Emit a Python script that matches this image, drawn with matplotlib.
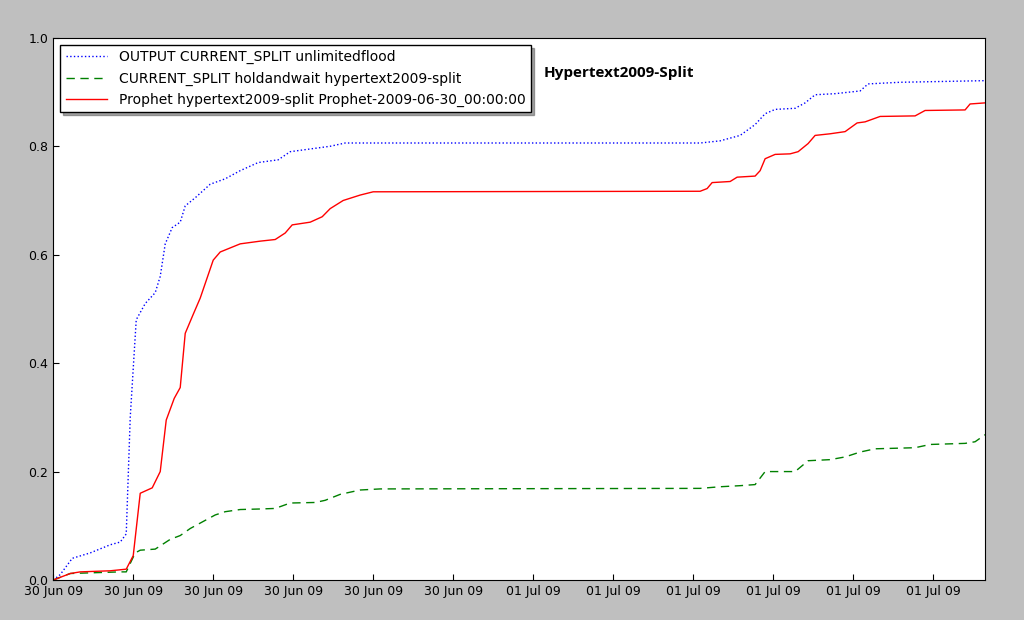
import datetime as dt
import matplotlib
matplotlib.use('Agg')
import matplotlib.pyplot as plt
import matplotlib.dates as mdates

start = dt.datetime(2009, 6, 30)

# hours since start, fraction delivered
flood_h = [0, 0.35, 0.95, 1.85, 2.85, 3.35, 3.65, 3.85, 4.15, 4.6, 5.1, 5.35, 5.6, 5.95, 6.35, 6.6, 7.1,
           7.85, 8.6, 9.35, 10.25, 11.25, 11.85, 12.85, 13.85, 14.6, 32.35, 33.35, 34.35, 35.1, 35.6,
           36.1, 37.1, 37.6, 38.1, 39.1, 40.35, 40.75, 42.35, 46.6]
flood_v = [0, .01, .04, .05, .065, .07, .085, .3, .48, .51, .53, .56, .62, .65, .66, .69, .705, .73, .74,
           .755, .77, .775, .79, .795, .80, .806, .806, .81, .82, .84, .86, .868, .87, .88, .895, .897,
           .902, .915, .918, .921]

hold_h = [0, 0.85, 3.35, 3.65, 4.1, 4.35, 5.1, 5.85, 6.35, 6.85, 7.35, 8.1, 8.6, 9.35, 10.35, 11.1,
          11.85, 13.1, 13.6, 14.35, 15.35, 16.35, 32.35, 33.35, 34.35, 35.1, 35.6, 37.1, 37.75, 38.85,
          39.6, 40.35, 41.1, 43.1, 43.85, 45.6, 46.1, 46.6]
hold_v = [0, .012, .015, .015, .05, .055, .057, .075, .082, .095, .105, .12, .126, .13, .131, .132,
          .142, .143, .147, .158, .166, .168, .169, .172, .174, .176, .2, .2, .22, .222, .227, .236,
          .242, .244, .25, .252, .255, .268]

proph_h = [0, 0.85, 1.35, 2.85, 3.65, 4.0, 4.35, 4.95, 5.35, 5.65, 6.05, 6.35, 6.6, 7.0, 7.35, 8.0,
           8.35, 9.35, 10.35, 11.1, 11.6, 11.95, 12.85, 13.45, 13.85, 14.5, 15.35, 16.0, 32.35, 32.7,
           32.95, 33.85, 34.2, 35.1, 35.35, 35.6, 36.1, 36.85, 37.25, 37.75, 38.1, 38.85, 39.6, 40.2,
           40.6, 41.35, 43.1, 43.6, 45.6, 45.85, 46.6]
proph_v = [0, .012, .015, .017, .02, .045, .16, .17, .2, .295, .335, .355, .455, .49, .52, .59, .605,
           .62, .625, .628, .64, .655, .66, .67, .685, .70, .71, .716, .717, .722, .733, .735, .743,
           .745, .755, .777, .785, .786, .79, .805, .82, .823, .827, .843, .845, .855, .856, .866,
           .867, .878, .88]

assert len(flood_h) == len(flood_v) and len(hold_h) == len(hold_v) and len(proph_h) == len(proph_v)


def to_dates(hours):
    return [start + dt.timedelta(hours=h) for h in hours]


fig = plt.figure(figsize=(10.24, 6.2), dpi=100, facecolor='#bfbfbf')
ax = fig.add_axes([0.052, 0.0645, 0.910, 0.8745])

ax.plot(to_dates(flood_h), flood_v, ':', color='blue', lw=1, label='OUTPUT CURRENT_SPLIT unlimitedflood')
ax.plot(to_dates(hold_h), hold_v, color='green', lw=1, dashes=(6, 4),
        label='CURRENT_SPLIT holdandwait hypertext2009-split')
ax.plot(to_dates(proph_h), proph_v, '-', color='red', lw=1, label='Prophet hypertext2009-split Prophet-2009-06-30_00:00:00')

ax.set_xlim(start, start + dt.timedelta(hours=46.6))
ax.set_ylim(0, 1.0)
ax.xaxis.set_major_locator(mdates.HourLocator(byhour=range(0, 24, 4)))
ax.xaxis.set_major_formatter(mdates.DateFormatter('%d %b %y'))
ax.set_yticks([0.0, 0.2, 0.4, 0.6, 0.8, 1.0])
ax.tick_params(labelsize=9, direction='in', length=4)

leg = ax.legend(loc='upper left', fontsize=10, shadow=True, fancybox=False, handlelength=3)
leg.get_frame().set_edgecolor('black')
ax.text(0.526, 0.935, 'Hypertext2009-Split', transform=ax.transAxes, fontsize=11,
        fontweight='bold', va='center', family=['Open Sans', 'DejaVu Sans'])

fig.savefig('out.png', dpi=100, facecolor=fig.get_facecolor())
